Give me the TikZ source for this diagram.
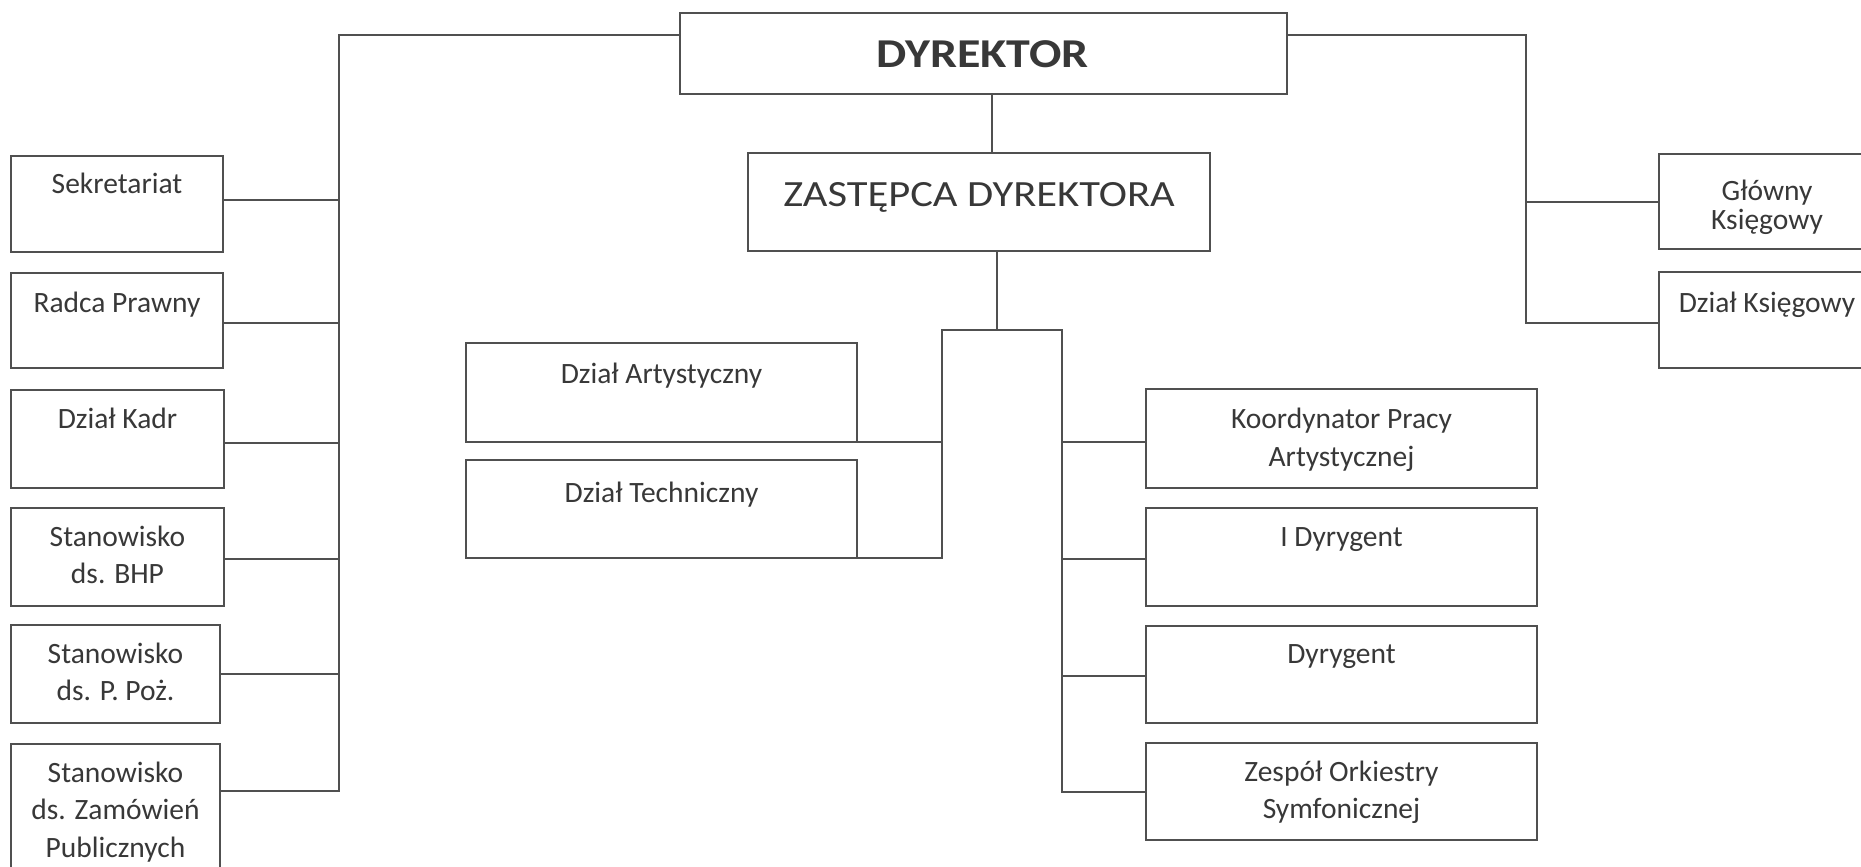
\documentclass[tikz,border=0pt]{standalone}
\usepackage{fontspec}
\usepackage{graphicx}
\setmainfont{Carlito}
\definecolor{lncol}{HTML}{505050}
\definecolor{txcol}{HTML}{383838}
\newcommand\obox[5]{\node[box, minimum width={(#4)-(#2)}, minimum height={(#5)-(#3)}] (#1) at ({((#2)+(#4))/2},{((#3)+(#5))/2}) {};}
\begin{document}
\begin{tikzpicture}[x=1pt,y=-1pt,
  box/.style={draw=lncol, line width=2pt, rectangle, inner sep=0pt, outer sep=0pt},
  lbl/.style={text=txcol, font=\fontsize{29.5}{37.5}\selectfont, align=center, anchor=base, inner sep=0pt},
  conn/.style={draw=lncol, line width=2pt}]
\useasboundingbox (0,0) rectangle (1861,867);
% top level
\obox{dyr}{680}{13}{1287}{94}
\obox{zas}{748}{153}{1210}{251}
\node[lbl, font=\bfseries\fontsize{41}{44}\selectfont] (dyr-t) at ([xshift=-1pt,yshift=-55pt]dyr.north) {\scalebox{1.17}[1]{DYREKTOR}};
\node[lbl, font=\fontsize{37}{40}\selectfont] (zas-t) at ([yshift=-53pt]zas.north) {\scalebox{1.15}[1]{ZASTĘPCA DYREKTORA}};
% left column
\obox{sek}{11}{156}{223}{252}
\obox{rad}{11}{273}{223}{368}
\obox{kad}{11}{390}{224}{488}
\obox{bhp}{11}{508}{224}{606}
\obox{ppo}{11}{625}{220}{723}
\obox{zam}{11}{744}{220}{900}
\node[lbl] (sek-t) at ([yshift=-37pt]sek.north) {Sekretariat};
\node[lbl] (rad-t) at ([yshift=-39pt]rad.north) {Radca Prawny};
\node[lbl] (kad-t) at ([yshift=-38pt]kad.north) {Dział Kadr};
\node[lbl] (bhp-t) at ([yshift=-75.5pt]bhp.north) {Stanowisko\\ds. BHP};
\node[lbl] (ppo-t) at ([yshift=-75.5pt]ppo.north) {Stanowisko\\ds. P. Poż.};
\node[lbl] (zam-t) at ([yshift=-113pt]zam.north) {Stanowisko\\ds. Zamówień\\Publicznych};
% middle
\obox{art}{466}{343}{857}{442}
\obox{tec}{466}{460}{857}{558}
\node[lbl] (art-t) at ([yshift=-40pt]art.north) {Dział Artystyczny};
\node[lbl] (tec-t) at ([yshift=-42pt]tec.north) {Dział Techniczny};
% right column
\obox{koo}{1146}{389}{1537}{488}
\obox{idy}{1146}{508}{1537}{606}
\obox{dyg}{1146}{626}{1537}{723}
\obox{zes}{1146}{743}{1537}{840}
\node[lbl] (koo-t) at ([yshift=-77pt]koo.north) {Koordynator Pracy\\Artystycznej};
\node[lbl] (idy-t) at ([yshift=-38pt]idy.north) {I Dyrygent};
\node[lbl] (dyg-t) at ([yshift=-37pt]dyg.north) {Dyrygent};
\node[lbl] (zes-t) at ([yshift=-75.5pt]zes.north) {Zespół Orkiestry\\Symfonicznej};
% far right
\obox{glo}{1659}{154}{1900}{249}
\obox{dks}{1659}{272}{1900}{368}
\node[lbl, font=\fontsize{29.5}{28.5}\selectfont] (glo-t) at ([xshift=108pt,yshift=-75pt]glo.north west) {Główny\\Księgowy};
\node[lbl] (dks-t) at ([xshift=108pt,yshift=-40pt]dks.north west) {Dział Księgowy};
% bus coordinates
\coordinate (LT) at (339,35);
\coordinate (RT) at (1526,35);
\coordinate (DZ) at (992,120);
\coordinate (BM) at (997,330);
\coordinate (BL) at (942,330);
\coordinate (BR) at (1062,330);
\coordinate (ZC) at ([yshift=-47pt]zam.north east);
% connectors
\draw[conn] (dyr.west |- LT) -- (LT) -- (LT |- ZC) -- (ZC);
\draw[conn] ([yshift=4pt]sek.east) -- ([yshift=4pt]sek.east -| LT);
\draw[conn] ([yshift=-2.5pt]rad.east) -- ([yshift=-2.5pt]rad.east -| LT);
\draw[conn] ([yshift=-4pt]kad.east) -- ([yshift=-4pt]kad.east -| LT);
\draw[conn] ([yshift=-2pt]bhp.east) -- ([yshift=-2pt]bhp.east -| LT);
\draw[conn] (ppo.east) -- (ppo.east -| LT);
\draw[conn] (dyr.east |- RT) -- (RT) -- ([yshift=-3pt]dks.west -| RT) -- ([yshift=-3pt]dks.west);
\draw[conn] ([yshift=-0.5pt]glo.west) -- ([yshift=-0.5pt]glo.west -| RT);
\draw[conn] (dyr.south -| DZ) -- (zas.north -| DZ);
\draw[conn] (zas.south -| BM) -- (BM);
\draw[conn] (art.south east) -- (art.south east -| BL);
\draw[conn] (tec.south east) -- (tec.south east -| BL) -- (BL) -- (BR) -- ([yshift=-0.5pt]zes.west -| BR) -- ([yshift=-0.5pt]zes.west);
\draw[conn] ([yshift=-3.5pt]koo.west) -- ([yshift=-3.5pt]koo.west -| BR);
\draw[conn] ([yshift=-2pt]idy.west) -- ([yshift=-2pt]idy.west -| BR);
\draw[conn] ([yshift=-1.5pt]dyg.west) -- ([yshift=-1.5pt]dyg.west -| BR);
\end{tikzpicture}
\end{document}
